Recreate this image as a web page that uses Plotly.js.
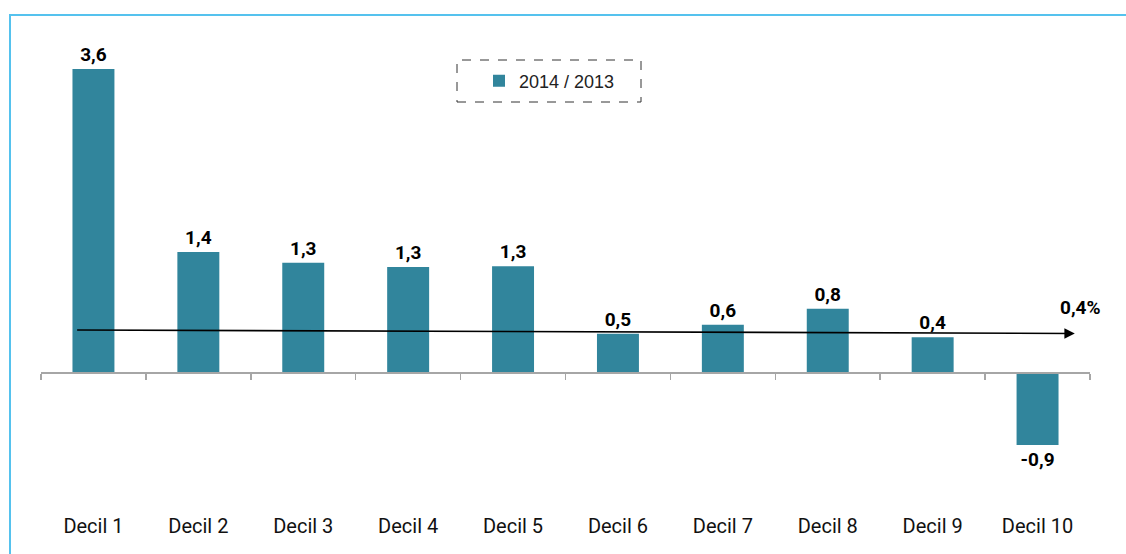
<!DOCTYPE html>
<html>
<head>
<meta charset="utf-8">
<script src="https://cdn.plot.ly/plotly-3.0.1.min.js"></script>
<style>
  html, body { margin: 0; padding: 0; background: #fff; }
  #chart { width: 1126px; height: 554px; }
</style>
</head>
<body>
<div id="chart"></div>
<script>
// ---- data ----
const categories = ["Decil 1", "Decil 2", "Decil 3", "Decil 4", "Decil 5",
                    "Decil 6", "Decil 7", "Decil 8", "Decil 9", "Decil 10"];
const growth2014vs2013 = [3.63, 1.44, 1.31, 1.26, 1.27, 0.46, 0.57, 0.76, 0.42, -0.87];
const seriesName = "2014 / 2013";
const totalGrowthLabel = "0,4%";
// trend arrow (data coordinates: category index, value)
const trendStart = [-0.17, 0.506];
const trendEnd = [9.355, 0.464];

const fmt = v => v.toFixed(1).replace(".", ",");
const labels = growth2014vs2013.map(fmt);

const labelFont = 'Roboto, "Liberation Sans", sans-serif';

const trace = {
  type: "bar",
  x: categories,
  y: growth2014vs2013,
  name: seriesName,
  marker: { color: "#31859C" },
  text: labels,
  textposition: "outside",
  cliponaxis: false,
  textfont: { family: labelFont, size: 19, color: "#000", weight: 700 },
  hoverinfo: "x+y"
};

const plotL = 41, plotR = 36, plotT = 38, plotB = 48;
const W = 1126, H = 554;
const pw = W - plotL - plotR, ph = H - plotT - plotB;
const yRange = [-1.6, 4.0];
const px = x => (x - plotL) / pw;         // pixel -> paper x
const py = y => (H - plotB - y) / ph;     // pixel -> paper y

const layout = {
  width: W, height: H,
  margin: { l: plotL, r: plotR, t: plotT, b: plotB, pad: 0 },
  paper_bgcolor: "#fff",
  plot_bgcolor: "rgba(0,0,0,0)",
  bargap: 0.6,
  showlegend: true,
  legend: {
    x: px(479), y: py(81), xanchor: "left", yanchor: "middle",
    bgcolor: "rgba(0,0,0,0)", borderwidth: 0,
    font: { family: '"Liberation Sans", Arial, sans-serif', size: 18, color: "#222" }
  },
  xaxis: {
    type: "category",
    range: [-0.5, 9.5],
    anchor: "free",
    position: (0 - yRange[0]) / (yRange[1] - yRange[0]),
    showline: true, linecolor: "#A6A6A6", linewidth: 1.5,
    ticks: "outside", tickson: "boundaries", ticklen: 6, tickwidth: 1.5, tickcolor: "#A6A6A6",
    ticklabelstandoff: 135,
    tickfont: { family: labelFont, size: 20, color: "#111" },
    showgrid: false, zeroline: false, fixedrange: true
  },
  yaxis: {
    range: yRange,
    visible: false, showgrid: false, zeroline: false, fixedrange: true
  },
  shapes: [
    { type: "line", xref: "paper", yref: "paper", x0: px(10), x1: px(10), y0: py(15), y1: py(600),
      line: { color: "#55C2EE", width: 2 } },
    { type: "line", xref: "paper", yref: "paper", x0: px(9), x1: px(1140), y0: py(15), y1: py(15),
      line: { color: "#55C2EE", width: 2 } },
    { type: "rect", xref: "paper", yref: "paper", x0: px(457), x1: px(641), y0: py(102), y1: py(60),
      line: { color: "#333", width: 1, dash: "dash" }, fillcolor: "rgba(0,0,0,0)" }
  ],
  annotations: [
    { x: trendEnd[0], y: trendEnd[1], ax: trendStart[0], ay: trendStart[1],
      xref: "x", yref: "y", axref: "x", ayref: "y",
      showarrow: true, arrowhead: 2, arrowsize: 1.3, arrowwidth: 1.6, arrowcolor: "#000", text: "" },
    { x: 9.41, y: 0.78, xref: "x", yref: "y", showarrow: false, text: totalGrowthLabel,
      font: { family: labelFont, size: 19, color: "#000", weight: 700 } }
  ]
};

Plotly.newPlot("chart", [trace], layout, { displayModeBar: false, staticPlot: true });
</script>
</body>
</html>
